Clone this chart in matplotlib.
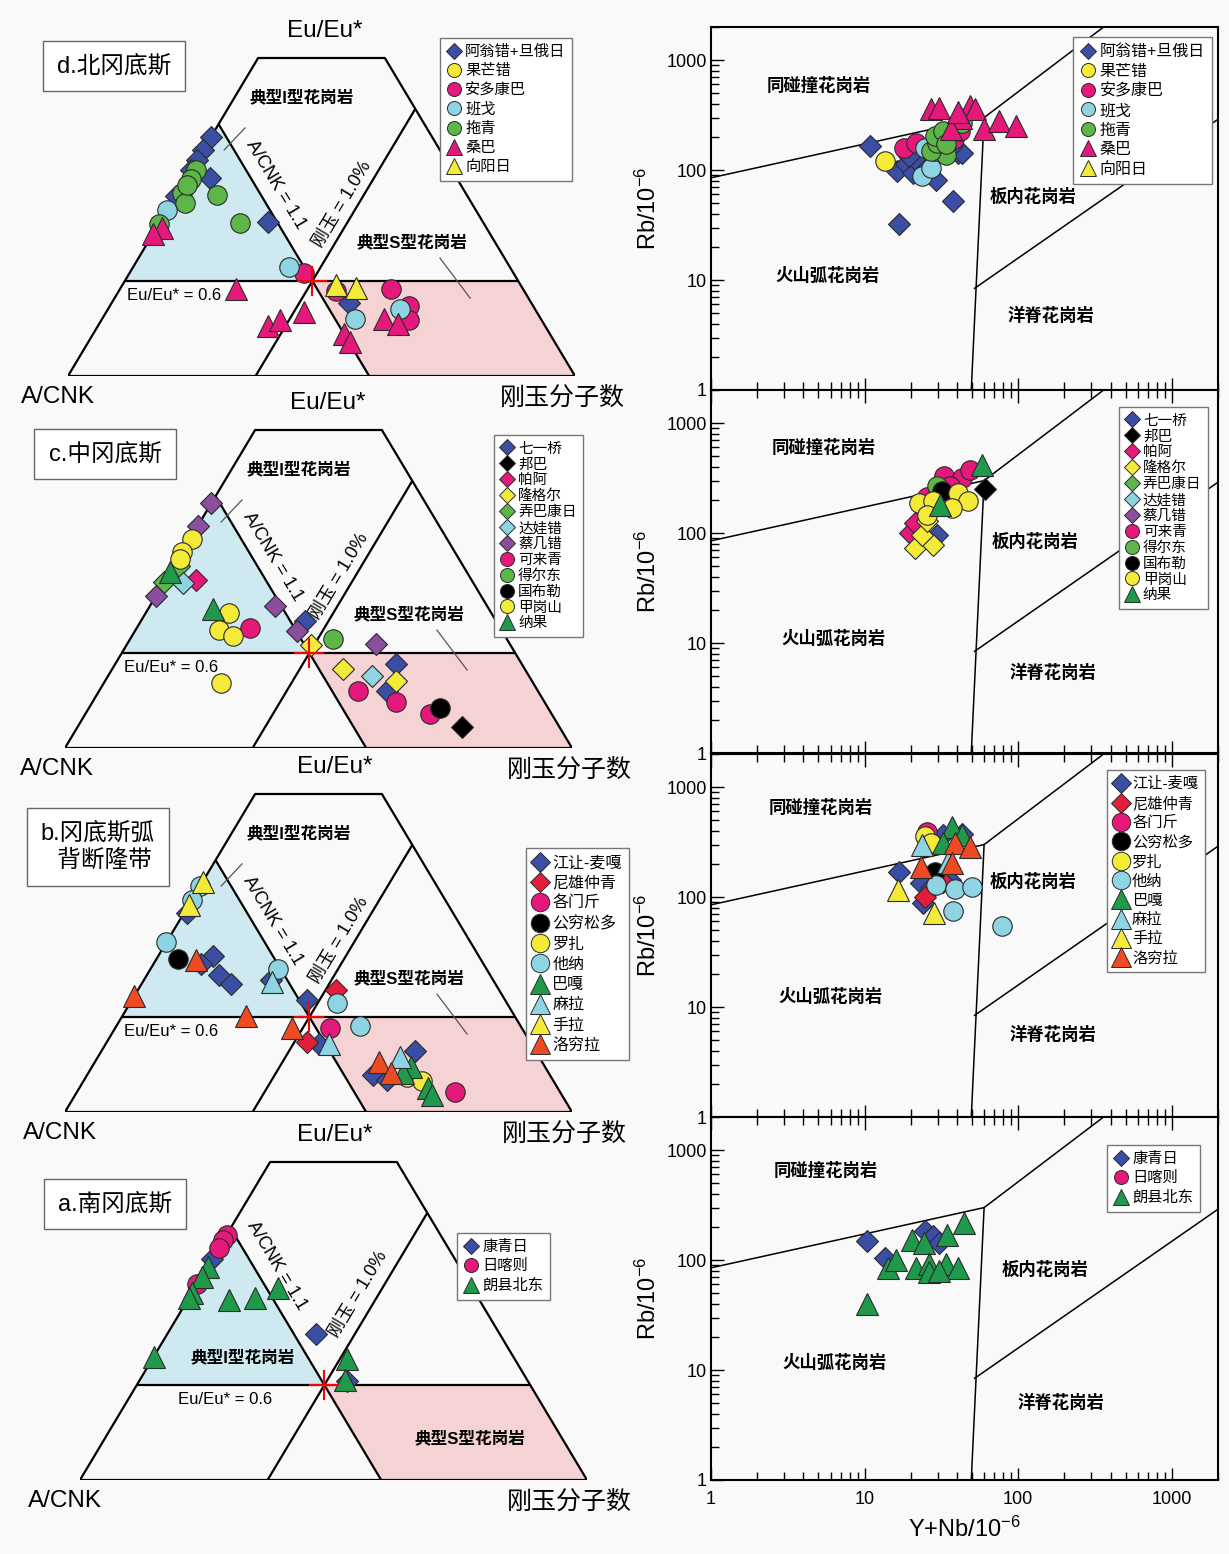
import matplotlib
matplotlib.use("Agg")
import matplotlib.pyplot as plt
from matplotlib.lines import Line2D
from matplotlib.patches import Polygon
from matplotlib.ticker import LogLocator, NullFormatter, FixedLocator, FixedFormatter

plt.rcParams['font.family'] = ['Liberation Sans', 'Noto Sans CJK SC', 'DejaVu Sans']
plt.rcParams['mathtext.fontset'] = 'custom'
plt.rcParams['mathtext.rm'] = 'Liberation Sans'
plt.rcParams['mathtext.default'] = 'regular'

BG = '#f9f9f9'
EDGE = '#2b2b2b'
BLUE = '#3b4ea5'
YELLOW = '#f4ea3a'
PINK = '#e5197c'
CYAN = '#8fd4e2'
LGREEN = '#5cb748'
DGREEN = '#1f9a4b'
PURPLE = '#8b4e9f'
RED = '#e31e3b'
ORANGE = '#ee4a24'
BLUEFILL = '#cfe9f1'
PINKFILL = '#f5d2d4'

# ---- 样品分组 (marker, colour) ----
STYLE = {
    '阿翁错+旦俄日': ('D', BLUE), '果芒错': ('o', YELLOW), '安多康巴': ('o', PINK),
    '班戈': ('o', CYAN), '拖青': ('o', LGREEN), '桑巴': ('^', PINK), '向阳日': ('^', YELLOW),
    '七一桥': ('D', BLUE), '邦巴': ('D', 'black'), '帕阿': ('D', PINK), '隆格尔': ('D', YELLOW),
    '弄巴康日': ('D', LGREEN), '达娃错': ('D', CYAN), '蔡几错': ('D', PURPLE),
    '可来青': ('o', PINK), '得尔东': ('o', LGREEN), '国布勒': ('o', 'black'),
    '甲岗山': ('o', YELLOW), '纳果': ('^', DGREEN),
    '江让-麦嘎': ('D', BLUE), '尼雄仲青': ('D', RED), '各门斤': ('o', PINK),
    '公穷松多': ('o', 'black'), '罗扎': ('o', YELLOW), '他纳': ('o', CYAN),
    '巴嘎': ('^', DGREEN), '麻拉': ('^', CYAN), '手拉': ('^', YELLOW), '洛穷拉': ('^', ORANGE),
    '康青日': ('D', BLUE), '日喀则': ('o', PINK), '朗县北东': ('^', DGREEN),
}
MS = {'D': 11, 'o': 14, '^': 15.5}

names_d = ['阿翁错+旦俄日', '果芒错', '安多康巴', '班戈', '拖青', '桑巴', '向阳日']
names_c = ['七一桥', '邦巴', '帕阿', '隆格尔', '弄巴康日', '达娃错', '蔡几错',
           '可来青', '得尔东', '国布勒', '甲岗山', '纳果']
names_b = ['江让-麦嘎', '尼雄仲青', '各门斤', '公穷松多', '罗扎', '他纳', '巴嘎', '麻拉', '手拉', '洛穷拉']
names_a = ['康青日', '日喀则', '朗县北东']

# ---- 三角图: (刚玉分子数分量, Eu/Eu*分量) ----
tern_d = {
    '阿翁错+旦俄日': ([0.0, 0.0, 0.0, 0.0, 0.046, 0.0, 0.213, 0.468],
                  [0.563, 0.533, 0.509, 0.485, 0.468, 0.425, 0.364, 0.173]),
    '拖青': ([0.01, 0.01, 0.01, 0.026, 0.08, 0.158, 0.0, 0.01],
           [0.485, 0.465, 0.431, 0.408, 0.427, 0.362, 0.358, 0.45]),
    '班戈': ([0.0, 0.308, 0.499, 0.575], [0.392, 0.256, 0.135, 0.158]),
    '安多康巴': ([0.344, 0.428, 0.534, 0.59, 0.607], [0.242, 0.2, 0.206, 0.165, 0.132]),
    '桑巴': ([0.229, 0.01, 0.0, 0.334, 0.353, 0.39, 0.495, 0.516, 0.555, 0.589],
           [0.206, 0.35, 0.335, 0.119, 0.132, 0.15, 0.1, 0.081, 0.135, 0.123]),
    '向阳日': ([0.421, 0.464], [0.215, 0.208]),
}
tern_c = {
    '七一桥': ([0.324, 0.554, 0.567], [0.3, 0.199, 0.135]),
    '邦巴': ([0.758], [0.05]),
    '帕阿': ([0.061], [0.396]),
    '隆格尔': ([0.365, 0.456, 0.574], [0.242, 0.186, 0.158]),
    '弄巴康日': ([0.0, 0.01], [0.392, 0.43]),
    '达娃错': ([0.039, 0.522], [0.388, 0.169]),
    '蔡几错': ([0.0, 0.0, 0.0, 0.246, 0.32, 0.491], [0.577, 0.523, 0.358, 0.335, 0.275, 0.245]),
    '可来青': ([0.224, 0.511, 0.598, 0.679], [0.283, 0.135, 0.109, 0.081]),
    '得尔东': ([0.399], [0.258]),
    '国布勒': ([0.692], [0.095]),
    '甲岗山': ([0.005, 0.0, 0.005, 0.164, 0.164, 0.199, 0.231],
            [0.492, 0.462, 0.445, 0.319, 0.279, 0.265, 0.154]),
    '纳果': ([0.0, 0.128], [0.415, 0.327]),
}
tern_b = {
    '江让-麦嘎': ([0.005, 0.108, 0.093, 0.143, 0.177, 0.25, 0.346, 0.42, 0.618, 0.564, 0.598],
              [0.47, 0.369, 0.35, 0.323, 0.301, 0.311, 0.263, 0.161, 0.145, 0.087, 0.076]),
    '尼雄仲青': ([0.39, 0.395], [0.288, 0.165]),
    '各门斤': ([0.423, 0.747], [0.199, 0.046]),
    '公穷松多': ([0.042], [0.361]),
    '罗扎': ([0.634, 0.668], [0.083, 0.072]),
    '他纳': ([0.0, 0.0, 0.0, 0.251, 0.408, 0.481], [0.533, 0.5, 0.4, 0.338, 0.257, 0.203]),
    '巴嘎': ([0.629, 0.688, 0.704, 0.622], [0.107, 0.056, 0.041, 0.091]),
    '麻拉': ([0.254, 0.44, 0.595], [0.307, 0.161, 0.13]),
    '手拉': ([0.0, 0.0], [0.543, 0.489]),
    '洛穷拉': ([0.08, 0.0, 0.244, 0.348, 0.561, 0.597], [0.358, 0.273, 0.226, 0.199, 0.118, 0.091]),
}
tern_a = {
    '康青日': ([0.0, 0.294, 0.411], [0.521, 0.344, 0.233]),
    '日喀则': ([0.0, 0.0, 0.0, 0.0], [0.579, 0.565, 0.548, 0.463]),
    '朗县北东': ([0.002, 0.002, 0.0, 0.0, 0.082, 0.131, 0.164, 0.0, 0.383, 0.404],
             [0.502, 0.479, 0.44, 0.429, 0.425, 0.429, 0.452, 0.29, 0.286, 0.236]),
}

# ---- Rb - (Y+Nb) 图 ----
rb_d = {
    '阿翁错+旦俄日': ([10.8, 16.2, 16.8, 18.5, 20.8, 22.7, 25.5, 29, 37.8, 40.6, 43, 37.2, 19.6],
                  [166, 98, 32, 113, 95, 117, 105, 82, 52, 144, 142, 165, 134]),
    '果芒错': ([13.6], [122]),
    '安多康巴': ([18, 21.7, 38.3, 41.8], [160, 177, 190, 227]),
    '班戈': ([23.8, 27, 24.8, 28.6], [88, 105, 160, 149]),
    '拖青': ([43, 34.1, 27, 29.5, 28.6, 32.2, 34.1], [266, 136, 149, 177, 204, 227, 171]),
    '桑巴': ([27, 30.7, 48.3, 52.7, 42.5, 36.5, 60.2, 74.7, 96.9, 40.6],
           [357, 370, 383, 357, 300, 235, 235, 280, 252, 334]),
}
rb_c = {
    '七一桥': ([29.5], [97]),
    '邦巴': ([61], [251]),
    '帕阿': ([19.7, 21.4], [100, 123]),
    '隆格尔': ([21.4, 27.8, 23.8, 25.5], [73, 78, 97, 128]),
    '弄巴康日': ([27], [200]),
    '可来青': ([33.1, 43, 48.3, 36.1, 25.5], [327, 316, 376, 266, 215]),
    '得尔东': ([29.5], [266]),
    '国布勒': ([31.8], [242]),
    '甲岗山': ([22.7, 27.8, 40.6, 46.9, 37.2, 25.5], [187, 194, 231, 194, 169, 147]),
    '纳果': ([58.2, 31.2], [418, 181]),
}
rb_b = {
    '江让-麦嘎': ([16.8, 23.4, 24, 32.2, 43, 36.1, 27], [170, 134, 88, 366, 378, 143, 120]),
    '尼雄仲青': ([24.8, 32.2], [101, 138]),
    '各门斤': ([25.5], [392]),
    '公穷松多': ([28.6], [170]),
    '罗扎': ([24.8, 27], [358, 308]),
    '他纳': ([29, 38.7, 50.2, 37.6, 79], [129, 118, 123, 75, 55]),
    '巴嘎': ([37.2, 32.2, 43], [434, 308, 366]),
    '麻拉': ([23.8, 35], [297, 209]),
    '手拉': ([16.5, 28.3], [116, 71.5]),
    '洛穷拉': ([23.4, 38.7, 37.2, 48.3], [189, 308, 203, 287]),
}
rb_a = {
    '康青日': ([10.4, 13.5, 24.9, 28, 30.5], [150, 104, 185, 164, 143]),
    '朗县北东': ([10.4, 14.3, 16.1, 20.3, 24.2, 21.5, 26.4, 26.4, 34.3, 33.9, 40.4, 44.6, 30.5],
             [40, 84, 100, 153, 143, 84, 93, 78, 170, 93, 85, 217, 80]),
}

FW, FH = 1229, 1554
TW, TH = 507, 424          # triangle base width / full height in px
fig = plt.figure(figsize=(FW / 100, FH / 100), dpi=100, facecolor=BG)


def tern_xy(c, e):
    # ternary (corundum, Eu) -> cartesian, base from 0 to 1, apex at e = 1
    return [ci + ei / 2 for ci, ei in zip(c, e)], list(e)


def handles(names, scale):
    hs = []
    for n in names:
        m, col = STYLE[n]
        hs.append(Line2D([], [], ls='none', marker=m, mfc=col, mec=EDGE, mew=0.7,
                         ms=MS[m] * scale, label=n))
    return hs


A_LINE, C_LINE, E_LINE, E_TOP = 0.406, 0.37, 0.224, 0.75


def draw_ternary(bl, by, data, names, title, title_xy, leg_xy, leg_fs, leg_ms, leg_sp,
                 lab, corner):
    ax = fig.add_axes([bl / FW, 1 - by / FH, TW / FW, 0.8 * TH / FH])
    ax.set_xlim(0, 1)
    ax.set_ylim(0, 0.8)
    ax.axis('off')

    # 分区
    ax.add_patch(Polygon([tern_xy([0], [1 - A_LINE])[0] + [1 - A_LINE],
                          [E_LINE / 2, E_LINE],
                          [1 - A_LINE - E_LINE + E_LINE / 2, E_LINE]],
                         closed=True, fc=BLUEFILL, ec='none', zorder=0))
    xs, ys = tern_xy([1 - A_LINE - E_LINE, 1 - E_LINE, 1.0, 1 - A_LINE],
                     [E_LINE, E_LINE, 0, 0])
    ax.add_patch(Polygon(list(zip(xs, ys)), closed=True, fc=PINKFILL, ec='none', zorder=0))

    kw = dict(color='black', lw=1.6, zorder=1, solid_capstyle='butt')
    xs, ys = tern_xy([0, 1, 1 - E_TOP, 0, 0], [0, 0, E_TOP, E_TOP, 0])
    ax.plot(xs, ys, **kw)
    xs, ys = tern_xy([0, 1 - A_LINE], [1 - A_LINE, 0])
    ax.plot(xs, ys, **kw)
    xs, ys = tern_xy([C_LINE, C_LINE], [0, 1 - C_LINE])
    ax.plot(xs, ys, **kw)
    xs, ys = tern_xy([0, 1 - E_LINE], [E_LINE, E_LINE])
    ax.plot(xs, ys, **kw)
    xs, ys = tern_xy([1 - A_LINE - E_LINE], [E_LINE])
    ax.plot(xs, ys, marker='+', color='red', ms=22, mew=1.5, zorder=6)

    # 文字
    tx = dict(fontsize=12, fontweight='bold', ha='center', va='center', zorder=2)
    ax.text(*lab['i'], '典型I型花岗岩', **tx)
    ax.text(*lab['s'], '典型S型花岗岩', **tx)
    for seg in lab.get('lead', []):
        ax.plot(seg[0], seg[1], color='#555555', lw=0.9, zorder=1)
    ax.text(*lab['acnk'], 'A/CNK = 1.1', fontsize=13, rotation=-59, ha='center', va='center')
    ax.text(*lab['cor'], '刚玉 = 1.0%', fontsize=13, rotation=59, ha='center', va='center')
    ax.text(*lab['eu'], 'Eu/Eu* = 0.6', fontsize=12, ha='center', va='center')
    ax.text(corner[0], -0.05, 'A/CNK', fontsize=17.5, ha='center', va='center')
    ax.text(corner[1], 0.814, 'Eu/Eu*', fontsize=17.5, ha='center', va='center')
    ax.text(corner[2], -0.052, '刚玉分子数', fontsize=18, ha='center', va='center')

    fig.text(title_xy[0] / FW, 1 - title_xy[1] / FH, title, fontsize=17, ha='center',
             va='center', linespacing=1.3,
             bbox=dict(boxstyle='square,pad=0.6', fc='white', ec='#666666', lw=1))

    for n in names:
        if n not in data:
            continue
        m, col = STYLE[n]
        xs, ys = tern_xy(*data[n])
        ax.plot(xs, ys, ls='none', marker=m, mfc=col, mec=EDGE, mew=0.8, ms=MS[m],
                clip_on=False, zorder=4)

    leg = ax.legend(handles=handles(names, leg_ms), loc='upper left',
                    bbox_to_anchor=(leg_xy[0] / FW, 1 - leg_xy[1] / FH),
                    bbox_transform=fig.transFigure, fontsize=leg_fs, frameon=True,
                    fancybox=False, edgecolor='#777777', facecolor='white',
                    framealpha=1, labelspacing=leg_sp, handletextpad=0.3,
                    handlelength=0.9, borderpad=0.45, borderaxespad=0)
    leg.get_frame().set_linewidth(1)


lab_std = {
    'i': (0.4615, 0.656), 's': (0.6785, 0.316),
    'lead': [([0.349, 0.308], [0.585, 0.533]), ([0.7337, 0.793], [0.278, 0.184])],
    'acnk': (0.41, 0.452), 'cor': (0.542, 0.405), 'eu': (0.21, 0.19),
}
lab_a = {
    'i': (0.3215, 0.29), 's': (0.769, 0.099),
    'acnk': (0.388, 0.505), 'cor': (0.55, 0.438), 'eu': (0.287, 0.19),
}

draw_ternary(68, 376, tern_d, names_d, 'd.北冈底斯', (114, 66), (440, 38), 11, 0.72, 0.33,
             lab_std, (-0.02, 0.507, 0.975))
draw_ternary(65, 748, tern_c, names_c, 'c.中冈底斯', (105, 454), (494, 435), 10.5, 0.72, 0.13,
             lab_std, (-0.015, 0.519, 0.995))
draw_ternary(65, 1112, tern_b, names_b, 'b.冈底斯弧\n  背断隆带', (98, 847), (526, 848), 11.5,
             0.95, 0.33, lab_std, (-0.01, 0.532, 0.985))
draw_ternary(80, 1480, tern_a, names_a, 'a.南冈底斯', (115, 1204), (457, 1233), 11, 0.72, 0.35,
             lab_a, (-0.03, 0.503, 0.966))

# ---- Pearce 判别图 ----
SYN_VAG = ([1, 60], [85, 300])
SYN_WPG = ([60, 360], [300, 2000])
VAG_WPG = ([49.5, 60], [1, 300])
WPG_ORG = ([52, 2000], [8.4, 290])

pearce = [
    (390, rb_d, names_d, (1212, 37), 11.5, 0.72, 0.28,
     [(5.0, 590), (5.7, 11), (125, 58), (163, 4.8)]),
    (753, rb_c, names_c, (1208, 407), 10.5, 0.72, 0.13,
     [(5.4, 600), (6.3, 11), (128, 84), (168, 5.4)]),
    (1117, rb_b, names_b, (1205, 770), 11, 0.95, 0.33,
     [(5.2, 650), (6.0, 12.4), (125, 138), (168, 5.6)]),
    (1480, rb_a, names_a, (1200, 1145), 11, 0.72, 0.35,
     [(5.6, 650), (6.4, 11.7), (150, 83), (190, 5.1)]),
]
region_names = ['同碰撞花岗岩', '火山弧花岗岩', '板内花岗岩', '洋脊花岗岩']

for k, (bot, data, names, leg_xy, leg_fs, leg_ms, leg_sp, reg) in enumerate(pearce):
    ax = fig.add_axes([711 / FW, 1 - bot / FH, 507 / FW, 363 / FH], facecolor=BG)
    ax.set_xscale('log')
    ax.set_yscale('log')
    ax.set_xlim(1, 2000)
    ax.set_ylim(1, 2000)
    for sp in ax.spines.values():
        sp.set_linewidth(1.5)

    for xs, ys in (SYN_VAG, SYN_WPG, VAG_WPG, WPG_ORG):
        ax.plot(xs, ys, color='black', lw=1.1, zorder=1)
    for (x, y), txt in zip(reg, region_names):
        ax.text(x, y, txt, fontsize=12.5, fontweight='bold', ha='center', va='center')

    for n in names:
        if n not in data:
            continue
        m, col = STYLE[n]
        ax.plot(data[n][0], data[n][1], ls='none', marker=m, mfc=col, mec=EDGE, mew=0.8,
                ms=MS[m], zorder=4)

    ax.xaxis.set_major_locator(FixedLocator([1, 10, 100, 1000]))
    ax.xaxis.set_minor_locator(LogLocator(base=10, subs=range(2, 10)))
    ax.yaxis.set_major_locator(FixedLocator([1, 10, 100, 1000]))
    ax.yaxis.set_minor_locator(LogLocator(base=10, subs=range(2, 10)))
    ax.yaxis.set_major_formatter(FixedFormatter(['1', '10', '100', '1000']))
    ax.yaxis.set_minor_formatter(NullFormatter())
    ax.xaxis.set_minor_formatter(NullFormatter())
    ax.tick_params(which='both', direction='in', top=(k > 0), right=False, width=1,
                   labelsize=13, pad=3)
    ax.tick_params(which='major', length=9)
    ax.tick_params(which='minor', length=6)
    if k == 3:
        ax.xaxis.set_major_formatter(FixedFormatter(['1', '10', '100', '1000']))
        ax.tick_params(axis='x', pad=8)
        ax.set_xlabel('Y+Nb/10$^{-6}$', fontsize=17, labelpad=6)
    else:
        ax.tick_params(labelbottom=False)
    ax.set_ylabel('Rb/10$^{-6}$', fontsize=17, labelpad=4)

    leg = ax.legend(handles=handles(names, leg_ms), loc='upper right',
                    bbox_to_anchor=(leg_xy[0] / FW, 1 - leg_xy[1] / FH),
                    bbox_transform=fig.transFigure, fontsize=leg_fs, frameon=True,
                    fancybox=False, edgecolor='#777777', facecolor='white',
                    framealpha=1, labelspacing=leg_sp, handletextpad=0.3,
                    handlelength=0.9, borderpad=0.45, borderaxespad=0)
    leg.get_frame().set_linewidth(1)

fig.savefig('out.png', dpi=100, facecolor=BG)
